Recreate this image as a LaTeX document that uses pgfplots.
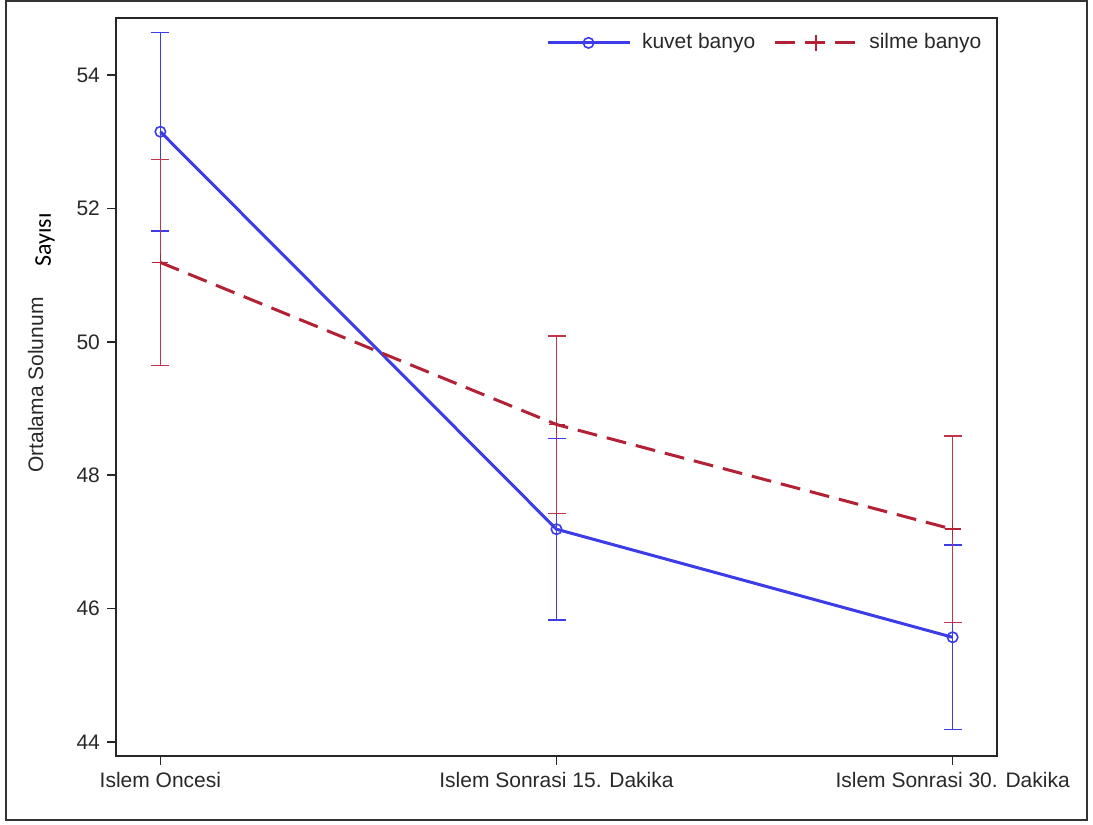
\documentclass[border=0pt]{standalone}
\usepackage{pgfplots}
\pgfplotsset{compat=1.18}
\usepackage{fontspec}
\setmainfont{Liberation Sans}
\newfontfamily\carlito{Carlito}
\definecolor{kblue}{RGB}{60,60,232}
\definecolor{sred}{RGB}{178,34,52}
\definecolor{sredl}{RGB}{196,52,72}
\definecolor{txt}{RGB}{40,40,40}
\begin{document}
\begin{tikzpicture}
\path (0pt,0pt) rectangle (546.5pt,412.5pt);
\draw[line width=1pt, color=black!80] (3pt,2.5pt) rectangle (543.5pt,412pt);
\node[rotate=90, text=txt, font=\fontsize{10.5}{12}\selectfont] at (17.75pt,220pt) {Ortalama Solunum};
\node[rotate=90, text=black, font=\carlito\fontsize{12}{14}\selectfont] at (22.5pt,292.5pt) {Sayısı};
\begin{axis}[
  at={(58pt,34.5pt)}, anchor=south west,
  scale only axis, width=440.5pt, height=369pt,
  xmin=-0.112, xmax=2.112, ymin=43.79, ymax=54.855,
  xtick={0,1,2},
  xticklabels={Islem Oncesi, Islem Sonrasi 15. Dakika, Islem Sonrasi 30. Dakika},
  ytick={44,46,48,50,52,54},
  tick align=outside, major tick length=4.5pt,
  xtick pos=bottom, ytick pos=left,
  axis line style={line width=0.75pt, color=black!85},
  every tick/.style={line width=0.75pt, color=black!85},
  tick label style={font=\fontsize{10.5}{12}\selectfont, text=txt},
  /pgf/number format/assume math mode=true,
  legend style={draw=none, fill=none, at={(0.994,0.99)}, anchor=north east,
    font=\fontsize{10.5}{12}\selectfont, text=txt,
    /tikz/every odd column/.append style={column sep=3.5pt},
    /tikz/every even column/.append style={column sep=7pt}},
  legend columns=2,
  legend image code/.code={\draw[mark repeat=2,mark phase=2,#1] plot coordinates {(0pt,0pt) (20.5pt,0pt) (41pt,0pt)};},
]
\addplot[kblue, line width=1.5pt, mark=o, mark size=2.6pt, mark options={line width=0.8pt, solid},
  error bars/.cd, y dir=both, y explicit,
  error bar style={line width=0.7pt, solid, kblue},
  error mark options={rotate=90, mark size=4.5pt, line width=0.7pt, solid, kblue}]
  coordinates {(0,53.15) +- (0,1.49) (1,47.19) +- (0,1.36) (2,45.57) +- (0,1.385)};
\addlegendentry{kuvet banyo}
\addplot[sred, line width=1.5pt, dash pattern=on 10pt off 5pt, mark=+, mark size=4pt, mark options={line width=0.8pt, solid},
  error bars/.cd, y dir=both, y explicit,
  error bar style={line width=0.7pt, solid, sredl},
  error mark options={rotate=90, mark size=4.5pt, line width=0.7pt, solid, sredl}]
  coordinates {(0,51.19) +- (0,1.545) (1,48.76) +- (0,1.33) (2,47.19) +- (0,1.40)};
\addlegendentry{silme banyo}
\end{axis}
\end{tikzpicture}
\end{document}
